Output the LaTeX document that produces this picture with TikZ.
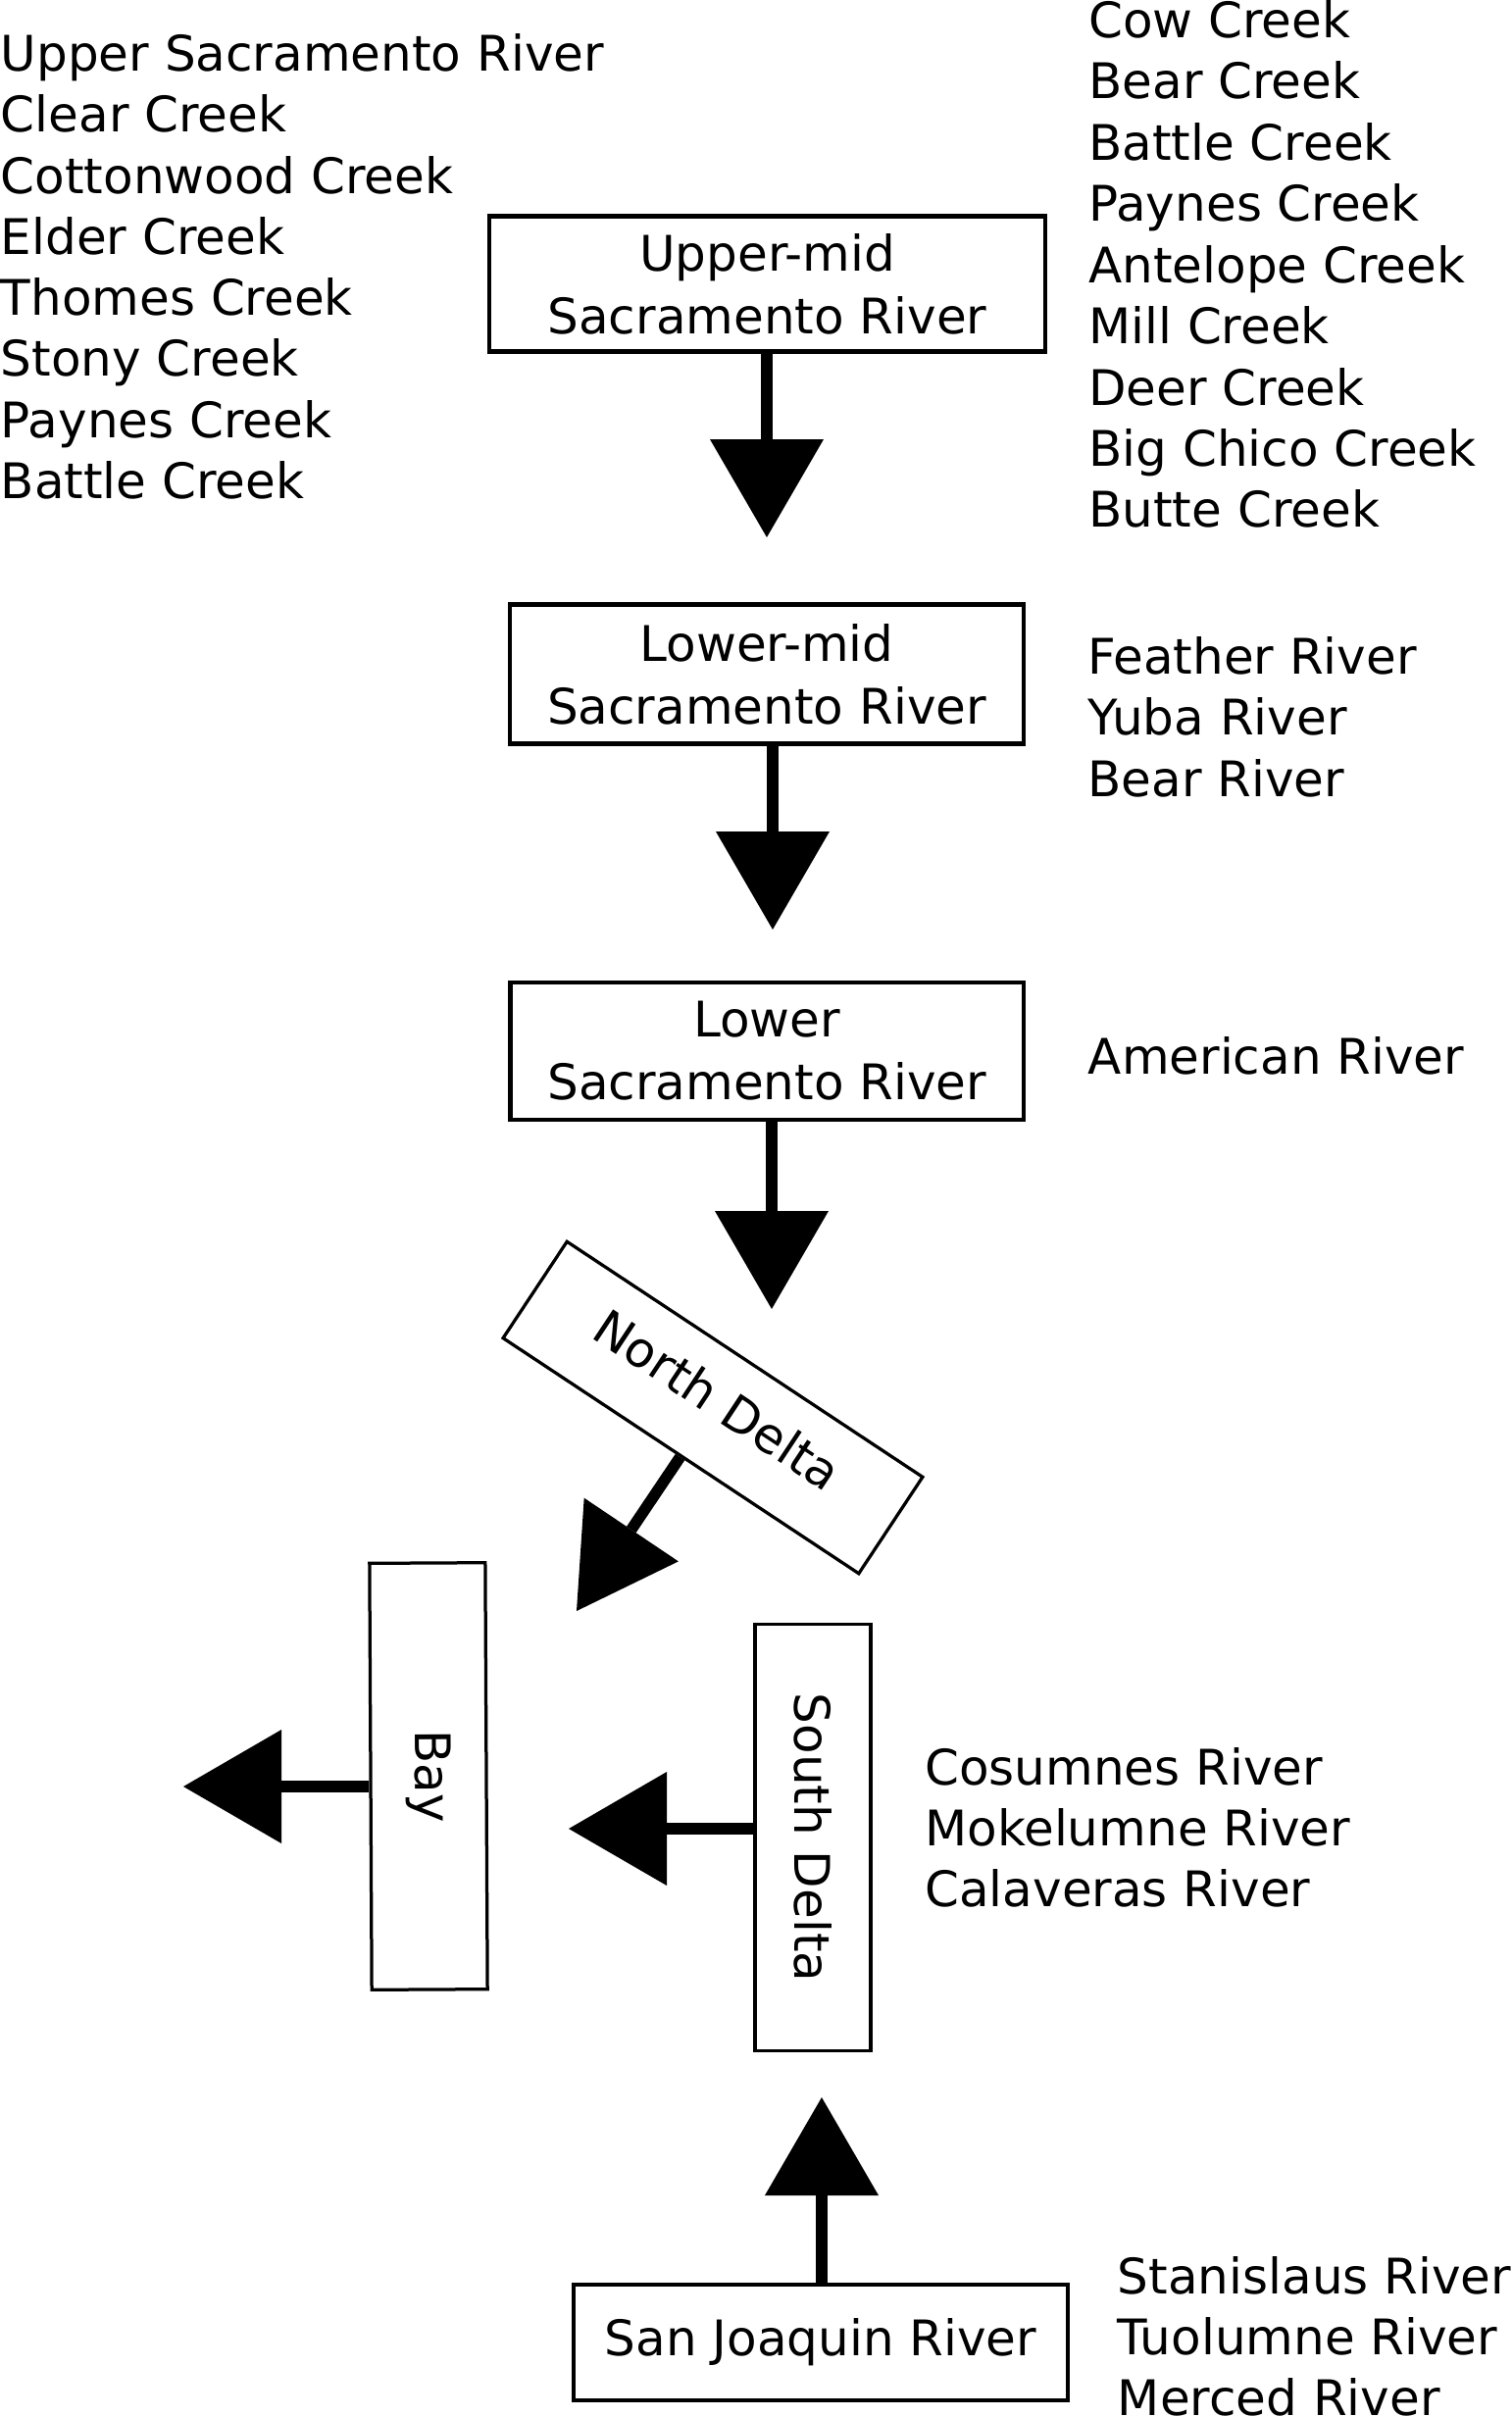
\documentclass[tikz,border=0pt]{standalone}
\usepackage{fontspec}
\setmainfont{DejaVu Sans}
\usetikzlibrary{arrows.meta}

\newcommand{\rivfont}{\fontsize{28.45pt}{36.4pt}\selectfont}

\begin{document}
\begin{tikzpicture}[
    reach/.style={draw, line width=0.09cm, align=center, inner sep=0pt, font=\rivfont},
    delta/.style={draw, line width=0.065cm, inner sep=0pt,
                  minimum width=8.7cm, minimum height=2.36cm, font=\rivfont},
    arr/.style={-{Triangle[length=2cm, width=2.32cm, line width=0pt]}, line width=0.23cm},
    lbl/.style={anchor=base west, inner sep=0pt, font=\rivfont}
  ]
    \useasboundingbox (0,0) rectangle (30.84,-49.3);

    % main stem
    \node[reach, minimum width=11.34cm, minimum height=2.76cm] (umid)  at (15.65,-5.79)  {Upper-mid\\Sacramento River};
    \node[reach, minimum width=10.48cm, minimum height=2.84cm] (lmid)  at (15.64,-13.75) {Lower-mid\\Sacramento River};
    \node[reach, minimum width=10.47cm, minimum height=2.80cm] (lower) at (15.645,-21.44) {Lower\\Sacramento River};

    % delta and bay
    \node[delta, rotate=-33.5, text height=0.76cm, text depth=0.4cm] (ndelta) at (14.54,-28.71) {North Delta};
    \node[delta, rotate=-89.7] (bay)    at (8.74,-36.23)  {Bay};
    \node[delta, rotate=-90]   (sdelta) at (16.58,-37.48) {South Delta};

    \node[reach, line width=0.08cm, minimum width=10.09cm, minimum height=2.35cm] (sjr) at (16.74,-47.78) {San Joaquin River};

    % arrow tips
    \coordinate (t1) at (15.64,-10.96);
    \coordinate (t2) at (15.76,-18.96);
    \coordinate (t3) at (15.74,-26.7);
    \coordinate (t4) at (11.76,-32.86);
    \coordinate (t5) at (3.74,-36.44);
    \coordinate (t6) at (11.6,-37.3);
    \coordinate (t7) at (16.76,-42.78);

    \draw[arr] (umid.south -| t1)  -- (t1);
    \draw[arr] (lmid.south -| t2)  -- (t2);
    \draw[arr] (lower.south -| t3) -- (t3);
    \draw[arr] (ndelta.south)      -- (t4);
    \draw[arr] (bay.south |- t5)   -- (t5);
    \draw[arr] (sdelta.south |- t6) -- (t6);
    \draw[arr] (sjr.north -| t7)   -- (t7);

    % tributaries
    \foreach \name [count=\i from 0] in {Upper Sacramento River, Clear Creek, Cottonwood Creek,
        Elder Creek, Thomes Creek, Stony Creek, Paynes Creek, Battle Creek}
      \node[lbl] (up\i) at (0.01,-1.448-1.246*\i) {\name};
    \foreach \name [count=\i from 0] in {Cow Creek, Bear Creek, Battle Creek, Paynes Creek,
        Antelope Creek, Mill Creek, Deer Creek, Big Chico Creek, Butte Creek}
      \node[lbl] (um\i) at (22.2,-0.766-1.249*\i) {\name};
    \foreach \name [count=\i from 0] in {Feather River, Yuba River, Bear River}
      \node[lbl] (lm\i) at (22.18,-13.74-1.25*\i) {\name};
    \node[lbl] (am) at (22.19,-21.9) {American River};
    \foreach \name [count=\i from 0] in {Cosumnes River, Mokelumne River, Calaveras River}
      \node[lbl] (sd\i) at (18.86,-36.4-1.246*\i) {\name};
    \foreach \name [count=\i from 0] in {Stanislaus River, Tuolumne River, Merced River}
      \node[lbl] (sj\i) at (22.79,-46.79-1.24*\i) {\name};
\end{tikzpicture}
\end{document}
